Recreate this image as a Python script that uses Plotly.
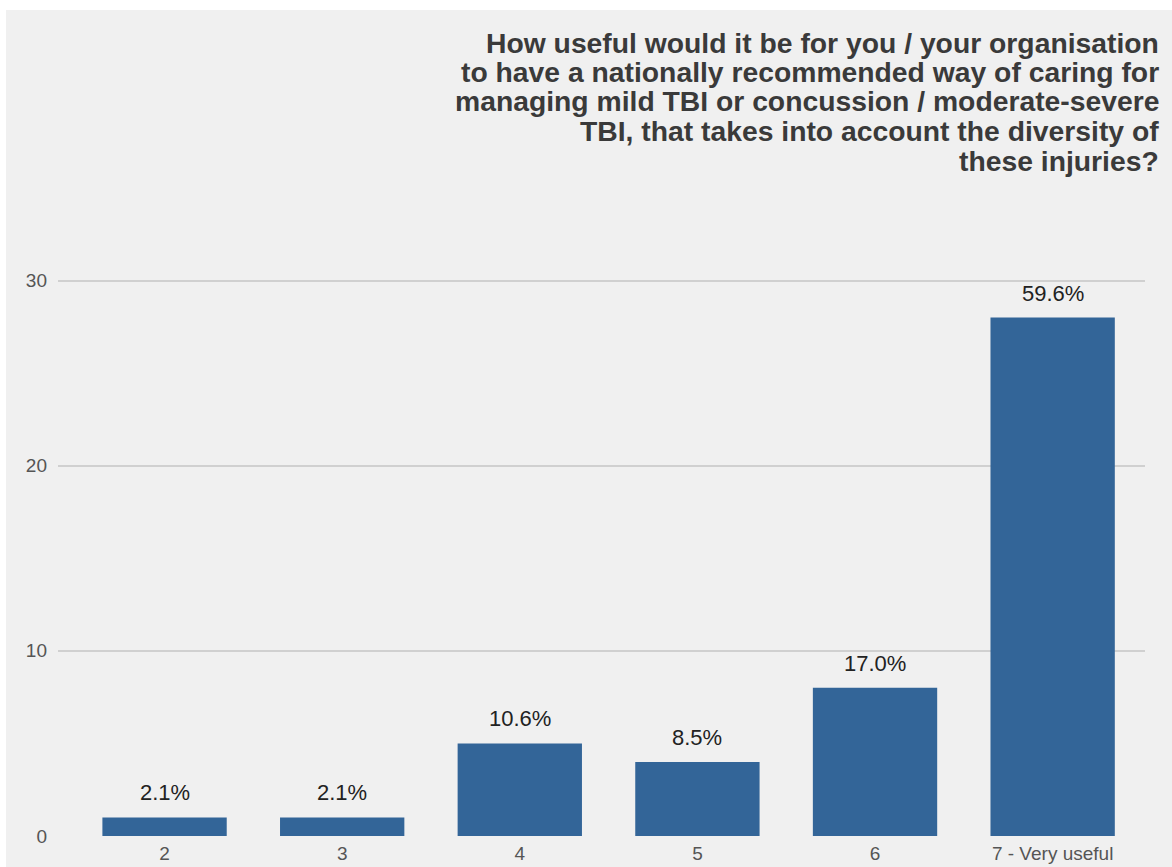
import plotly.graph_objects as go

# Survey responses: usefulness rating (1-7 scale) and respondent counts
categories = ["2", "3", "4", "5", "6", "7 - Very useful"]
counts = [1, 1, 5, 4, 8, 28]
y_ticks = [0, 10, 20, 30]

title_lines = [
    "How useful would it be for you / your organisation",
    "to have a nationally recommended way of caring for",
    "managing mild TBI or concussion / moderate-severe",
    "TBI, that takes into account the diversity of",
    "these injuries?",
]

total = sum(counts)
pct_labels = [f"{c / total * 100:.1f}%" for c in counts]

FONT = "Liberation Sans, Arial, sans-serif"
W, H = 1172, 867
L, R, T, B = 58, 27, 262, 31
plot_w = W - L - R
plot_h = H - T - B


def px_to_paper_x(px):
    return (px - L) / plot_w


def px_to_paper_y(py):
    return (H - B - py) / plot_h


fig = go.Figure()
fig.add_trace(go.Bar(
    x=categories,
    y=counts,
    marker=dict(color="#336598", line=dict(width=0)),
    width=0.7,
    hoverinfo="x+y",
))

# Percentage labels above each bar
for i, (c, lab) in enumerate(zip(counts, pct_labels)):
    fig.add_annotation(
        x=i, y=c, text=lab, showarrow=False,
        yanchor="bottom", yshift=10,
        font=dict(family=FONT, size=22, color="#222222"),
    )

# Title block, right-aligned with tight line spacing
title_top, line_step = 42.5, 29.5
for k, line in enumerate(title_lines):
    fig.add_annotation(
        xref="paper", yref="paper",
        x=px_to_paper_x(1161), y=px_to_paper_y(title_top + k * line_step),
        xanchor="right", yanchor="middle", align="right",
        text="<b>" + line + "</b>",
        showarrow=False,
        font=dict(family=FONT, size=28.3, color="#3a3a3a"),
    )

# Light panel with a thin white margin on the top and left edges
fig.add_shape(
    type="rect", xref="paper", yref="paper", layer="below",
    x0=px_to_paper_x(6), x1=px_to_paper_x(W + 5),
    y0=px_to_paper_y(H + 5), y1=px_to_paper_y(10),
    fillcolor="#f0f0f0", line=dict(width=0),
)

fig.update_layout(
    width=W, height=H,
    margin=dict(l=L, r=R, t=T, b=B, pad=0),
    paper_bgcolor="#ffffff",
    plot_bgcolor="rgba(0,0,0,0)",
    showlegend=False,
    bargap=0.3,
    xaxis=dict(
        type="category",
        range=[-0.6, 5.52],
        automargin=False,
        showgrid=False, zeroline=False, showline=False,
        ticks="", tickfont=dict(family=FONT, size=19, color="#555555"),
        ticklabelstandoff=4,
        fixedrange=True,
    ),
    yaxis=dict(
        range=[0, 31],
        automargin=False,
        tickvals=y_ticks,
        showgrid=True, gridcolor="#d0d0d0", gridwidth=2,
        zeroline=False, showline=False,
        ticks="", tickfont=dict(family=FONT, size=19, color="#555555"),
        ticklabelstandoff=10,
        fixedrange=True,
    ),
)

fig.write_html("out.html")
